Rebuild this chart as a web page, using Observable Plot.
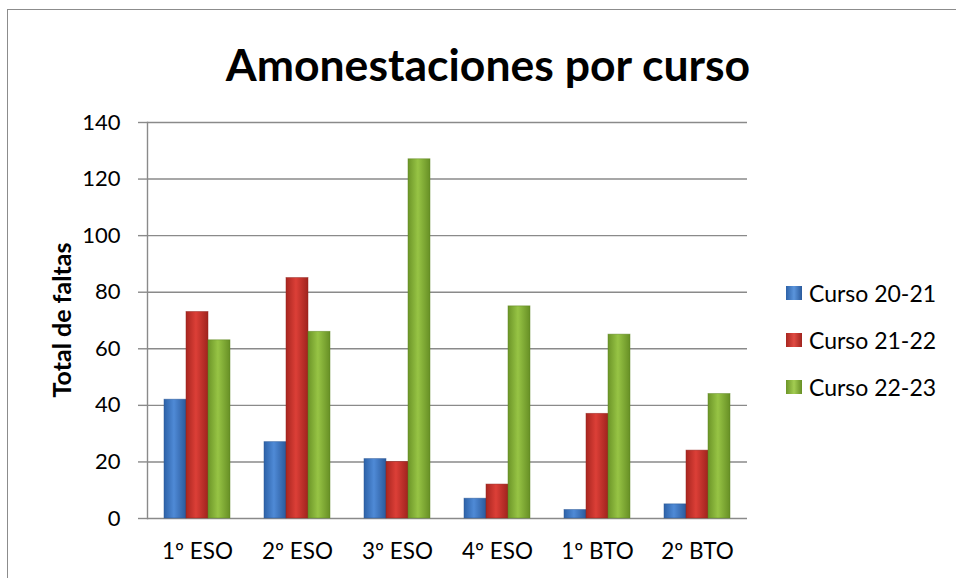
<!DOCTYPE html>
<html>
<head>
<meta charset="utf-8">
<script src="https://cdn.jsdelivr.net/npm/d3@7"></script>
<script src="https://cdn.jsdelivr.net/npm/@observablehq/plot@0.6"></script>
<style>
  html, body { margin: 0; padding: 0; background: #fff; }
  #wrap { position: relative; width: 956px; height: 578px; overflow: hidden; background: #fff; font-family: Lato, "Open Sans", sans-serif; color: #000; }
  #border { position: absolute; left: 7px; top: 9px; width: 1000px; height: 700px; border: 1.5px solid #8c8c8c; box-sizing: border-box; }
  #title { position: absolute; left: 0; width: 976px; top: 42px; text-align: center; font-weight: 700; font-size: 44.5px; line-height: 44px; white-space: nowrap; }
  #ylabel { position: absolute; left: 61px; top: 320px; transform: translate(-50%, -50%) rotate(-90deg); font-weight: 700; font-size: 25px; white-space: nowrap; }
  #chart { position: absolute; left: 0; top: 0; }
  #legend { position: absolute; left: 786px; top: 269px; font-size: 23px; }
  .row { display: flex; align-items: center; height: 47px; white-space: nowrap; }
  .sw { width: 16px; height: 14px; margin-right: 7px; box-sizing: border-box; }
</style>
</head>
<body>
<svg width="0" height="0" style="position:absolute">
  <defs>
    <linearGradient id="gBlue" x1="0" x2="1" y1="0" y2="0">
      <stop offset="0" stop-color="#2d62a8"/>
      <stop offset="0.45" stop-color="#4f8ad6"/>
      <stop offset="1" stop-color="#2a5a9c"/>
    </linearGradient>
    <linearGradient id="gRed" x1="0" x2="1" y1="0" y2="0">
      <stop offset="0" stop-color="#a82620"/>
      <stop offset="0.45" stop-color="#dc3f37"/>
      <stop offset="1" stop-color="#a0241e"/>
    </linearGradient>
    <linearGradient id="gGreen" x1="0" x2="1" y1="0" y2="0">
      <stop offset="0" stop-color="#6c9528"/>
      <stop offset="0.45" stop-color="#97c445"/>
      <stop offset="1" stop-color="#678f25"/>
    </linearGradient>
  </defs>
</svg>
<div id="wrap">
  <div id="border"></div>
  <div id="chart"></div>
  <div id="title">Amonestaciones por curso</div>
  <div id="ylabel">Total de faltas</div>
  <div id="legend"></div>
</div>
<script>
const cursos = ["1º ESO", "2º ESO", "3º ESO", "4º ESO", "1º BTO", "2º BTO"];
const series = ["Curso 20-21", "Curso 21-22", "Curso 22-23"];
const curso2021 = [42, 27, 21, 7, 3, 5];
const curso2122 = [73, 85, 20, 12, 37, 24];
const curso2223 = [63, 66, 127, 75, 65, 44];
const yTicks = [0, 20, 40, 60, 80, 100, 120, 140];
const fills = ["url(#gBlue)", "url(#gRed)", "url(#gGreen)"];
const strokes = ["#2a5694", "#93221c", "#5f8522"];

const valuesBySerie = [curso2021, curso2122, curso2223];
const data = cursos.flatMap((c, i) => series.map((s, j) => ({curso: c, serie: s, value: valuesBySerie[j][i]})));

const chart = Plot.plot({
  width: 956,
  height: 578,
  marginLeft: 147,
  marginRight: 209,
  marginTop: 122,
  marginBottom: 60,
  style: {fontFamily: "Lato, 'Open Sans', sans-serif", fontSize: "22px", color: "#000", background: "transparent", overflow: "visible"},
  fx: {domain: cursos, padding: 0, label: null},
  x: {domain: series, paddingInner: 0, paddingOuter: 0.7, axis: null},
  y: {domain: [0, 140], label: null},
  color: {domain: series, range: fills},
  marks: [
    Plot.gridY(yTicks, {stroke: "#8a8a8a", strokeOpacity: 1, strokeWidth: 1.4}),
    Plot.frame({anchor: "left", fx: () => cursos[0], stroke: "#8a8a8a", strokeWidth: 1.4}),
    Plot.axisY(yTicks, {tickSize: 9, tickPadding: 18, stroke: "#8a8a8a", strokeWidth: 1.4, fontSize: 22, label: null, fill: "#000"}),
    Plot.axisFx({anchor: "bottom", tickSize: 0, tickPadding: 25, fontSize: 22.5, label: null, fill: "#000"}),
    Plot.barY(data, {fx: "curso", x: "serie", y: "value", fill: "serie", stroke: d => strokes[series.indexOf(d.serie)], strokeWidth: 0.8, strokeOpacity: 0.6})
  ]
});
document.getElementById("chart").appendChild(chart);

const legend = document.getElementById("legend");
series.forEach((s, j) => {
  const row = document.createElement("div");
  row.className = "row";
  const sw = document.createElement("div");
  sw.className = "sw";
  sw.style.background = ["linear-gradient(90deg,#2d62a8,#5b95dc,#2a5a9c)", "linear-gradient(90deg,#a82620,#e04b43,#a0241e)", "linear-gradient(90deg,#6c9528,#a3cd52,#678f25)"][j];
  row.appendChild(sw);
  const t = document.createElement("span");
  t.textContent = s;
  row.appendChild(t);
  legend.appendChild(row);
});
</script>
</body>
</html>
